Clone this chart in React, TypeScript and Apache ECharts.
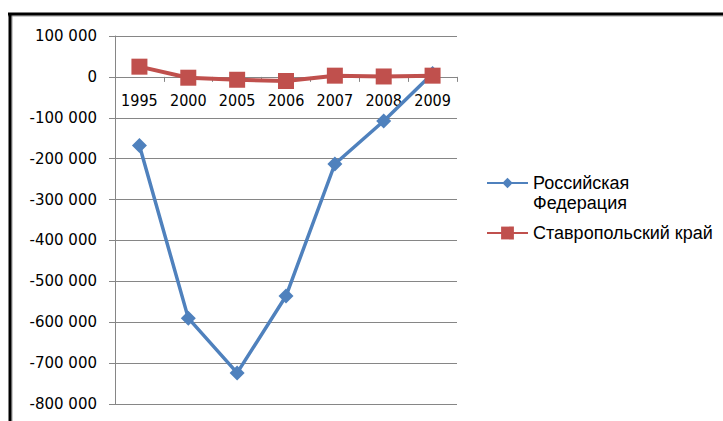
import React, { useEffect, useRef } from "react";
import * as echarts from "echarts";

const categories = ["1995", "2000", "2005", "2006", "2007", "2008", "2009"];
const russiaName = "Российская Федерация";
const stavropolName = "Ставропольский край";
const russia = [-168000, -590000, -724000, -536000, -213000, -108000, 8000];
const stavropol = [25000, -2000, -7000, -10000, 3000, 1000, 3000];
const yMin = -800000;
const yMax = 100000;
const yStep = 100000;

const fmt = (v: number) => {
  if (v === 0) return "0";
  const s = Math.abs(v).toString().replace(/\B(?=(\d{3})+(?!\d))/g, " ");
  return (v < 0 ? "-" : "") + s;
};

export default function App() {
  const ref = useRef<HTMLDivElement>(null);
  useEffect(() => {
    const chart = echarts.init(ref.current!, undefined, { renderer: "svg" });
    const grey = "#868686";
    const gridTop = 36;
    const gridBottom = 17;
    const plotH = 421 - gridTop - gridBottom;
    // the category axis sits on the zero line of the value axis
    const zeroOffset = -(plotH * (yMax - 0)) / (yMax - yMin);
    chart.setOption({
      animation: false,
      backgroundColor: "#fff",
      grid: { left: 115, right: 266, top: gridTop, bottom: gridBottom, outerBoundsMode: "none", containLabel: false },
      xAxis: {
        type: "category",
        data: categories,
        boundaryGap: true,
        position: "top",
        offset: zeroOffset,
        axisLine: { show: true, onZero: false, lineStyle: { color: grey, width: 1 } },
        axisTick: { show: true, inside: true, length: 5, lineStyle: { color: grey } },
        axisLabel: {
          inside: true,
          color: "#000",
          fontSize: 16,
          fontFamily: "Liberation Sans Narrow, DejaVu Sans Condensed, sans-serif",
          margin: 16,
        },
        splitLine: { show: false },
      },
      yAxis: {
        type: "value",
        min: yMin,
        max: yMax,
        interval: yStep,
        axisLine: { show: true, lineStyle: { color: grey, width: 1 } },
        axisTick: { show: true, length: 6, lineStyle: { color: grey } },
        axisLabel: {
          color: "#000",
          fontSize: 15,
          fontFamily: "DejaVu Sans, sans-serif",
          margin: 18,
          formatter: (v: number) => fmt(v),
        },
        splitLine: { show: true, lineStyle: { color: grey, width: 1 } },
      },
      legend: [
        {
          data: [russiaName],
          left: 486,
          top: 153,
          padding: 0,
          itemWidth: 41,
          itemHeight: 13,
          itemGap: 0,
          formatter: () => " \nРоссийская\nФедерация",
          textStyle: {
            fontSize: 18,
            lineHeight: 20,
            color: "#000",
            fontFamily: "Liberation Sans, sans-serif",
          },
        },
        {
          data: [stavropolName],
          left: 486,
          top: 224,
          padding: 0,
          itemWidth: 41,
          itemHeight: 16,
          textStyle: {
            fontSize: 18,
            color: "#000",
            fontFamily: "Liberation Sans, sans-serif",
          },
        },
      ],
      series: [
        {
          name: russiaName,
          type: "line",
          data: russia,
          symbol: "diamond",
          symbolSize: 15,
          itemStyle: { color: "#4F81BD" },
          lineStyle: { color: "#4F81BD", width: 3.5 },
        },
        {
          name: stavropolName,
          type: "line",
          data: stavropol,
          symbol: "rect",
          symbolSize: 16,
          itemStyle: { color: "#C0504D" },
          lineStyle: { color: "#C0504D", width: 4 },
        },
      ],
      graphic: [
        { type: "line", shape: { x1: 8, y1: 16, x2: 723, y2: 16 }, style: { stroke: "#999", lineWidth: 1 } },
        { type: "line", shape: { x1: 12, y1: 14, x2: 12, y2: 421 }, style: { stroke: "#999", lineWidth: 1 } },
        { type: "line", shape: { x1: 8, y1: 14, x2: 723, y2: 14 }, style: { stroke: "#000", lineWidth: 3 } },
        { type: "line", shape: { x1: 10, y1: 13, x2: 10, y2: 421 }, style: { stroke: "#000", lineWidth: 3 } },
      ],
    });
    return () => chart.dispose();
  }, []);
  return (
    <div
      ref={ref}
      style={{ position: "absolute", left: 0, top: 0, width: 723, height: 421 }}
    />
  );
}
